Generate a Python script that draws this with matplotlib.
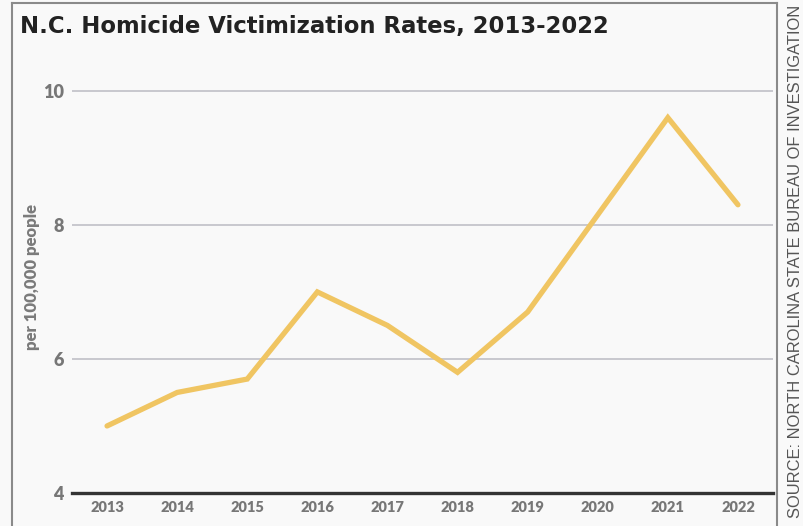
import matplotlib.pyplot as plt
from matplotlib.lines import Line2D

# data
years = [2013, 2014, 2015, 2016, 2017, 2018, 2019, 2020, 2021, 2022]
rates = [5.0, 5.5, 5.7, 7.0, 6.5, 5.8, 6.7, 8.15, 9.6, 8.3]
yticks = [4, 6, 8, 10]

title = "N.C. Homicide Victimization Rates, 2013-2022"
ylabel = "per 100,000 people"
source = "SOURCE: NORTH CAROLINA STATE BUREAU OF INVESTIGATION"

W, H = 804, 526
fig = plt.figure(figsize=(W / 100, H / 100), dpi=100, facecolor="#f9f9f9")

# axes area in pixels
left, right, bottom, top = 72, 773, 493, 60
ax = fig.add_axes([left / W, 1 - bottom / H, (right - left) / W, (bottom - top) / H])
ax.set_facecolor("#f9f9f9")

ax.plot(years, rates, color="#f0c562", linewidth=3.8, solid_capstyle="round",
        solid_joinstyle="miter", zorder=3)

ax.set_xlim(2012.5, 2022.5)
ax.set_ylim(4, 10.46)
ax.set_yticks(yticks)
ax.set_xticks(years)
ax.set_yticklabels([str(v) for v in yticks], fontsize=13, fontweight="heavy",
                   color="#777777", family="Lato")
ax.set_xticklabels([str(y) for y in years], fontsize=10.5, fontweight="heavy",
                   color="#777777", family="Lato")
ax.tick_params(axis="both", length=0)
ax.tick_params(axis="y", pad=6)
ax.tick_params(axis="x", pad=6)

for v in yticks[1:]:
    ax.axhline(v, color="#c4c4cb", linewidth=1.3, zorder=1)
ax.axhline(4, color="#333333", linewidth=2.4, zorder=4, clip_on=False)

for s in ax.spines.values():
    s.set_visible(False)

ax.set_ylabel(ylabel, fontsize=12, fontweight="heavy", color="#7b7b7b", family="Lato")
ax.yaxis.set_label_coords(-0.046, 0.5)

# frame around chart
fig.add_artist(Line2D([12 / W, 12 / W], [0, 1 - 3 / H], color="#8a8a8a", linewidth=1.5,
                      transform=fig.transFigure))
fig.add_artist(Line2D([12 / W, 777 / W], [1 - 3 / H, 1 - 3 / H], color="#8a8a8a",
                      linewidth=1.5, transform=fig.transFigure))
fig.add_artist(Line2D([777 / W, 777 / W], [0, 1 - 3 / H], color="#8a8a8a", linewidth=1.5,
                      transform=fig.transFigure))

fig.text(20 / W, 1 - 26 / H, title, fontsize=16.4, fontweight="bold", family="DejaVu Sans",
         color="#222222", ha="left", va="center")

fig.text(796 / W, 1 - 5 / H, source, rotation=90, fontsize=11.9,
         family="Liberation Sans", color="#555555", ha="center", va="top")

fig.savefig("out.png", dpi=100, facecolor=fig.get_facecolor())
